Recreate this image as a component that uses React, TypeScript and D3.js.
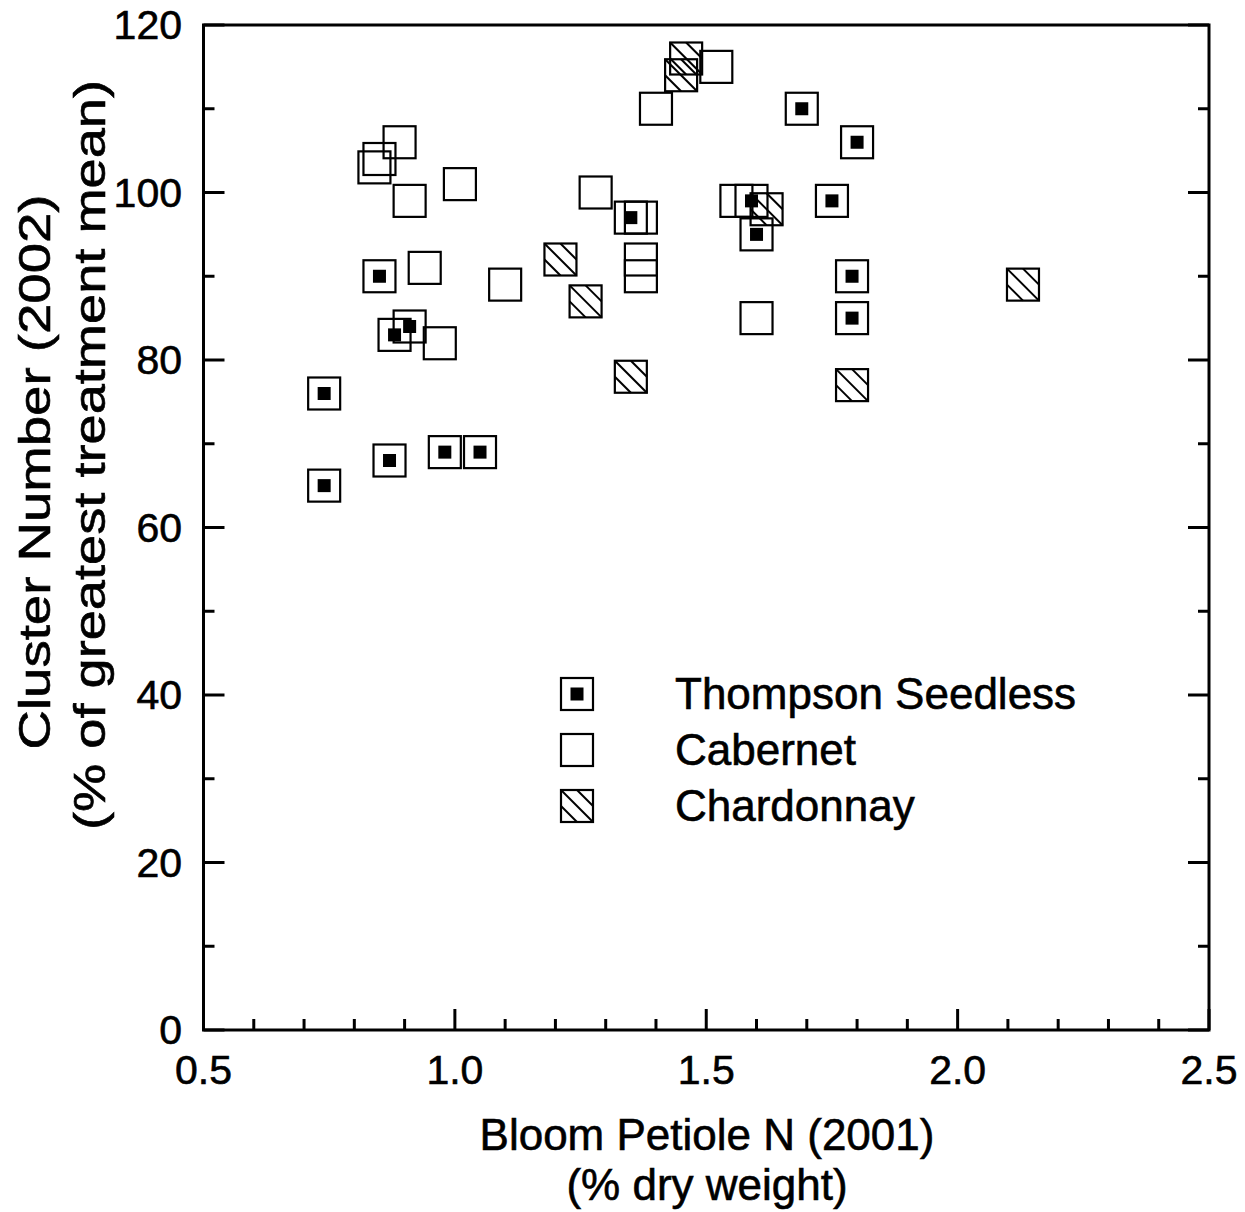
import React from "react";
import * as d3 from "d3";

const thompsonX = [0.85, 0.88, 0.91, 0.74, 0.87, 0.98, 1.05, 0.74, 1.35, 1.59, 1.6, 1.69, 1.8, 1.75, 1.79, 1.79];
const thompsonY = [90, 83, 84, 76, 68, 69, 69, 65, 97, 99, 95, 110, 106, 99, 90, 85];
const cabernetX = [0.89, 0.85, 0.84, 0.91, 1.01, 0.94, 1.1, 0.97, 1.52, 1.4, 1.28, 1.37, 1.37, 1.37, 1.56, 1.6];
const cabernetY = [106, 104, 103, 99, 101, 91, 89, 82, 115, 110, 100, 97, 92, 90, 99, 85];
const chardX = [1.46, 1.45, 1.21, 1.26, 1.62, 1.35, 1.79, 2.13];
const chardY = [116, 114, 92, 87, 98, 78, 77, 89];

const xTicksMajor = [0.5, 1.0, 1.5, 2.0, 2.5];
const yTicksMajor = [0, 20, 40, 60, 80, 100, 120];
const legendLabels = ["Thompson Seedless", "Cabernet", "Chardonnay"];

const W = 1245;
const H = 1212;
const FONT = "'Liberation Sans', Arial, Helvetica, sans-serif";
const S = 32; // marker size

const x = d3.scaleLinear().domain([0.5, 2.5]).range([203.5, 1209]);
const y = d3.scaleLinear().domain([0, 120]).range([1030, 25]);

function Marker({ cx, cy, kind }: { cx: number; cy: number; kind: string }) {
  const h = S / 2;
  const x0 = cx - h, y0 = cy - h, x1 = cx + h, y1 = cy + h;
  return (
    <g>
      <rect x={x0} y={y0} width={S} height={S} fill="none" stroke="#000" strokeWidth={2.2} />
      {kind === "thompson" && (
        <rect x={cx - 6.5} y={cy - 6.5} width={13} height={13} fill="#000" />
      )}
      {kind === "chard" && (
        <g stroke="#000" strokeWidth={2}>
          <line x1={x0} y1={y0} x2={x1} y2={y1} />
          <line x1={cx} y1={y0} x2={x1} y2={cy} />
          <line x1={x0} y1={cy} x2={cx} y2={y1} />
        </g>
      )}
    </g>
  );
}

export default function App() {
  const xMinor = d3.range(0.6, 2.5, 0.1).filter((v) => Math.abs(v * 2 - Math.round(v * 2)) > 0.01);
  const yMinor = d3.range(10, 120, 20);
  const left = x(0.5), right = x(2.5), top = y(120), bottom = y(0);
  const txt = { stroke: "#000", strokeWidth: 0.6 };
  return (
    <svg width={W} height={H} style={{ position: "absolute", left: 0, top: 0, background: "#fff" }} fontFamily={FONT}>
      <rect x={0} y={0} width={W} height={H} fill="#fff" />
      {/* frame */}
      <rect x={left} y={top} width={right - left} height={bottom - top} fill="none" stroke="#000" strokeWidth={3} />
      {/* x ticks */}
      {xTicksMajor.map((v) => (
        <g key={"xm" + v}>
          <line x1={x(v)} x2={x(v)} y1={bottom} y2={bottom - 21} stroke="#000" strokeWidth={3} />
          <text x={x(v)} y={1084} textAnchor="middle" fontSize={41} {...txt}>{v.toFixed(1)}</text>
        </g>
      ))}
      {xMinor.map((v) => (
        <line key={"xn" + v} x1={x(v)} x2={x(v)} y1={bottom} y2={bottom - 11} stroke="#000" strokeWidth={3} />
      ))}
      {/* y ticks */}
      {yTicksMajor.map((v) => (
        <g key={"ym" + v}>
          <line x1={left} x2={left + 21} y1={y(v)} y2={y(v)} stroke="#000" strokeWidth={3} />
          <line x1={right} x2={right - 21} y1={y(v)} y2={y(v)} stroke="#000" strokeWidth={3} />
          <text x={182} y={y(v) + 14} textAnchor="end" fontSize={41} {...txt}>{v}</text>
        </g>
      ))}
      {yMinor.map((v) => (
        <g key={"yn" + v}>
          <line x1={left} x2={left + 11} y1={y(v)} y2={y(v)} stroke="#000" strokeWidth={3} />
          <line x1={right} x2={right - 11} y1={y(v)} y2={y(v)} stroke="#000" strokeWidth={3} />
        </g>
      ))}
      {/* axis titles */}
      <text x={707} y={1150} textAnchor="middle" fontSize={44} {...txt}>Bloom Petiole N (2001)</text>
      <text x={707} y={1200} textAnchor="middle" fontSize={44} {...txt}>(% dry weight)</text>
      <g transform="translate(50,472) rotate(-90)">
        <text x={0} y={0} textAnchor="middle" fontSize={44} textLength={555} lengthAdjust="spacingAndGlyphs" {...txt}>Cluster Number (2002)</text>
      </g>
      <g transform="translate(105,455) rotate(-90)">
        <text x={0} y={0} textAnchor="middle" fontSize={44} textLength={750} lengthAdjust="spacingAndGlyphs" {...txt}>(% of greatest treatment mean)</text>
      </g>
      {/* data */}
      {cabernetX.map((v, i) => (
        <Marker key={"c" + i} cx={x(v)} cy={y(cabernetY[i])} kind="cab" />
      ))}
      {chardX.map((v, i) => (
        <Marker key={"h" + i} cx={x(v)} cy={y(chardY[i])} kind="chard" />
      ))}
      {thompsonX.map((v, i) => (
        <Marker key={"t" + i} cx={x(v)} cy={y(thompsonY[i])} kind="thompson" />
      ))}
      {/* legend */}
      {legendLabels.map((lab, i) => {
        const cy = 694 + i * 56;
        const kind = i === 0 ? "thompson" : i === 1 ? "cab" : "chard";
        return (
          <g key={lab}>
            <Marker cx={577} cy={cy} kind={kind} />
            <text x={675} y={cy + 15} fontSize={44} {...txt}>{lab}</text>
          </g>
        );
      })}
    </svg>
  );
}
